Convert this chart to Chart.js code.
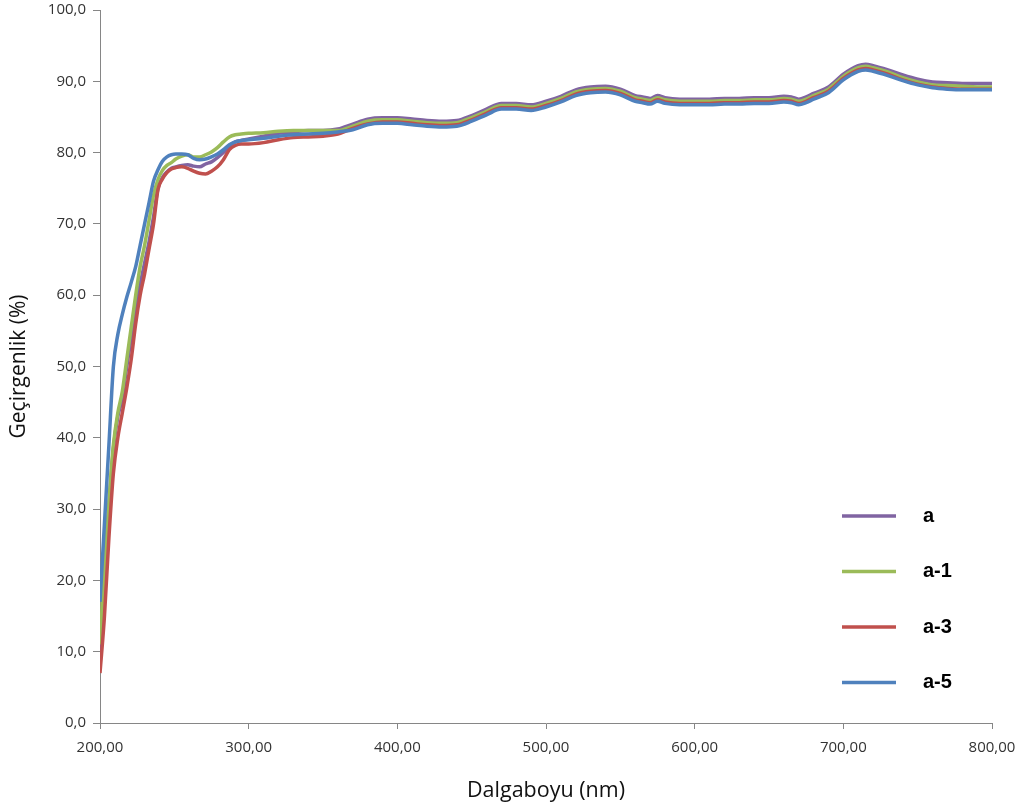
<!DOCTYPE html>
<html>
<head>
<meta charset="utf-8">
<script src="https://cdn.jsdelivr.net/npm/chart.js@4/dist/chart.umd.min.js"></script>
<style>
  body { margin: 0; background: #fff; }
  canvas { display: block; }
</style>
</head>
<body>
<canvas id="spectrumChart" width="1023" height="812"></canvas>
<script>
// wavelengths (nm)
var wavelengths = [200,203,206,209,212,215,218,221,224,227,230,233,236,239,242,245,248,251,255,259,263,267,271,275,279,283,287,291,295,300,
  310,320,330,340,350,360,370,380,390,400,410,420,430,440,450,460,470,480,490,500,510,520,530,540,550,560,565,570,575,580,
  590,600,610,620,630,640,650,660,665,670,675,680,690,700,710,715,720,730,740,750,760,770,780,790,800];

// transmittance (%) per sample
var seriesA = [10,21,30,38.5,43,45.5,50,54,58,61.5,64.5,67.5,71,75,76.5,77.3,77.8,78,78.2,78.3,78.1,78,78.4,78.7,79.3,80,80.9,81.5,81.7,81.9,
  82.3,82.7,82.9,83.1,83.1,83.3,84.0,84.7,84.9,84.9,84.7,84.5,84.4,84.5,85.2,86.1,86.9,86.9,86.7,87.2,87.9,88.8,89.2,89.3,88.9,88.0,87.8,87.6,88.0,87.7,
  87.5,87.5,87.5,87.6,87.6,87.7,87.7,87.9,87.8,87.5,87.8,88.3,89.2,91.0,92.2,92.4,92.2,91.6,90.9,90.3,89.9,89.8,89.7,89.7,89.7];
var seriesA1 = [11,22,31,39,43.5,46.5,51,55.5,60,64,67,70.5,74,76.2,77.5,78.2,78.6,79.1,79.5,79.7,79.4,79.4,79.7,80.1,80.7,81.5,82.2,82.5,82.6,82.7,
  82.8,83.0,83.1,83.1,83.1,83.1,83.7,84.4,84.6,84.6,84.4,84.2,84.1,84.2,84.9,85.8,86.6,86.6,86.4,86.9,87.6,88.5,88.9,89.0,88.6,87.7,87.5,87.3,87.7,87.4,
  87.2,87.2,87.2,87.3,87.3,87.4,87.4,87.6,87.5,87.2,87.5,88.0,88.9,90.7,91.9,92.1,91.9,91.3,90.5,89.9,89.5,89.4,89.3,89.2,89.2];
var seriesA3 = [7,15,26,35,40,43.5,47,51,56,60,63,66.5,70,74.8,76.3,77.2,77.7,77.9,78,77.8,77.4,77.1,77.0,77.4,78.0,79.0,80.4,81.0,81.2,81.2,
  81.4,81.8,82.1,82.2,82.3,82.6,83.4,84.0,84.3,84.3,84.1,83.9,83.8,83.9,84.6,85.5,86.3,86.3,86.1,86.6,87.3,88.2,88.6,88.7,88.3,87.4,87.2,87.0,87.4,87.1,
  86.9,86.9,86.9,87.0,87.0,87.1,87.1,87.3,87.2,86.9,87.2,87.7,88.6,90.4,91.6,91.8,91.6,91.0,90.2,89.6,89.2,89.0,88.9,88.9,88.9];
var seriesA5 = [17,28,39,50,54.5,57.3,59.7,61.8,64,67,70,73,76,77.6,78.8,79.4,79.7,79.8,79.8,79.7,79.2,79.0,79.1,79.4,79.8,80.4,81.1,81.5,81.7,81.8,
  82.0,82.3,82.5,82.6,82.7,82.9,83.2,83.9,84.1,84.1,83.9,83.7,83.6,83.7,84.4,85.3,86.1,86.1,85.9,86.4,87.1,88.0,88.4,88.5,88.1,87.2,87.0,86.8,87.2,86.9,
  86.7,86.7,86.7,86.8,86.8,86.9,86.9,87.1,87.0,86.7,87.0,87.5,88.4,90.2,91.4,91.6,91.4,90.8,90.1,89.5,89.1,88.9,88.8,88.8,88.8];

var seriesNames = ["a", "a-1", "a-3", "a-5"];
var seriesColors = ["#8064A2", "#9BBB59", "#C0504D", "#4F81BD"];
var allSeries = [seriesA, seriesA1, seriesA3, seriesA5];

function toPoints(values) {
  return wavelengths.map(function (w, i) { return { x: w, y: values[i] }; });
}

// legend drawn inside the plot, lower right
var sideLegend = {
  id: 'sideLegend',
  afterDraw: function (chart) {
    var ctx = chart.ctx;
    ctx.save();
    chart.data.datasets.forEach(function (ds, i) {
      var y = 516 + i * 55.5;
      ctx.strokeStyle = ds.borderColor;
      ctx.lineWidth = 3.5;
      ctx.beginPath();
      ctx.moveTo(842, y);
      ctx.lineTo(896, y);
      ctx.stroke();
      ctx.fillStyle = '#000';
      ctx.font = 'bold 20px "Liberation Sans", Arial, sans-serif';
      ctx.textBaseline = 'middle';
      ctx.fillText(ds.label, 923, y);
    });
    ctx.restore();
  }
};

var ctx = document.getElementById("spectrumChart").getContext('2d');
var myChart = new Chart(ctx, {
  type: 'line',
  data: {
    datasets: seriesNames.map(function (name, i) {
      return {
        label: name,
        data: toPoints(allSeries[i]),
        borderColor: seriesColors[i],
        backgroundColor: seriesColors[i],
        borderWidth: 3.5,
        pointRadius: 0,
        fill: false,
        cubicInterpolationMode: 'monotone',
        order: 4 - i
      };
    })
  },
  options: {
    responsive: false,
    animation: false,
    layout: { padding: { top: 10, right: 31, left: 0, bottom: 0 } },
    plugins: {
      legend: { display: false },
      tooltip: { enabled: false }
    },
    scales: {
      x: {
        type: 'linear',
        min: 200,
        max: 800,
        afterFit: function (s) { s.height = 89; s.paddingLeft = 0; s.paddingRight = 0; },
        ticks: {
          stepSize: 100,
          padding: 10,
          color: '#333',
          font: { family: '"Open Sans", sans-serif', size: 15 },
          callback: function (v) { return v.toFixed(2).replace('.', ','); }
        },
        grid: { drawOnChartArea: false, drawTicks: true, tickLength: 6, color: '#868686' },
        border: { color: '#868686', width: 1 },
        title: {
          display: true,
          text: 'Dalgaboyu (nm)',
          color: '#111',
          font: { family: '"Open Sans", sans-serif', size: 21.5 },
          padding: { top: 4, bottom: 8 }
        }
      },
      y: {
        min: 0,
        max: 100,
        afterFit: function (s) { s.width = 100; s.paddingTop = 0; s.paddingBottom = 0; },
        ticks: {
          stepSize: 10,
          padding: 7,
          color: '#333',
          font: { family: '"Open Sans", sans-serif', size: 15 },
          callback: function (v) { return v.toFixed(1).replace('.', ','); }
        },
        grid: { drawOnChartArea: false, drawTicks: true, tickLength: 7, color: '#868686' },
        border: { color: '#868686', width: 1 },
        title: {
          display: true,
          text: 'Geçirgenlik (%)',
          color: '#111',
          font: { family: '"Open Sans", sans-serif', size: 21 },
          padding: { top: 6, bottom: 4 }
        }
      }
    }
  },
  plugins: [sideLegend]
});
</script>
</body>
</html>
